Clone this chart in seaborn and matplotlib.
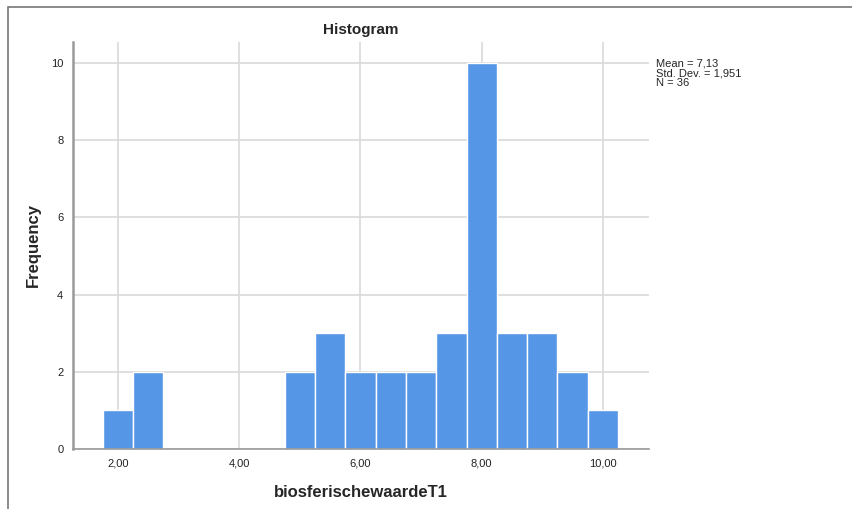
import seaborn as sns
import matplotlib.pyplot as plt
from matplotlib.patches import Rectangle

# bin centres and frequencies
bin_centers = [2.0, 2.5, 5.0, 5.5, 6.0, 6.5, 7.0, 7.5, 8.0, 8.5, 9.0, 9.5, 10.0]
frequencies = [1, 2, 2, 3, 2, 2, 2, 3, 10, 3, 3, 2, 1]
x_ticks = [2, 4, 6, 8, 10]
x_tick_labels = ["2,00", "4,00", "6,00", "8,00", "10,00"]
y_ticks = [0, 2, 4, 6, 8, 10]
stats_text = "Mean = 7,13\nStd. Dev. = 1,951\nN = 36"

sns.set_style("white")
plt.rcParams['font.family'] = ['Liberation Sans', 'DejaVu Sans']

fig = plt.figure(figsize=(8.52, 5.09), dpi=100)
ax = fig.add_axes([0.0857, 0.1179, 0.676, 0.7996])

sns.histplot(x=bin_centers, weights=frequencies, binwidth=0.5, binrange=(1.75, 10.25),
             color='#5596e6', alpha=1, edgecolor='white', linewidth=1, ax=ax, zorder=3)

ax.set_xlim(1.258, 10.76)
ax.set_ylim(0, 10.54)
ax.set_xticks(x_ticks)
ax.set_xticklabels(x_tick_labels)
ax.set_yticks(y_ticks)
ax.tick_params(length=0, labelsize=8, colors='#222222', pad=7)
ax.grid(True, color='#d9d9d9', linewidth=1.2, zorder=0)
ax.set_axisbelow(True)

for side in ['top', 'right']:
    ax.spines[side].set_visible(False)
ax.spines['left'].set_color('#9a9a9a')
ax.spines['left'].set_linewidth(1.8)
ax.spines['bottom'].set_color('#9a9a9a')
ax.spines['bottom'].set_linewidth(1.2)
ax.spines['bottom'].set_zorder(4)

ax.set_title("Histogram", fontsize=11, fontweight='bold', pad=6)
ax.set_xlabel("biosferischewaardeT1", fontsize=12, fontweight='bold', labelpad=12)
ax.set_ylabel("Frequency", fontsize=12, fontweight='bold', labelpad=7)

fig.text(656 / 852, 1 - 59 / 509, stats_text, fontsize=8, va='top', ha='left',
         linespacing=0.95)

# outer frame like the SPSS output window
fig.patches.append(Rectangle((8 / 852, -0.1), 1.2, 1.1 - 7 / 509, transform=fig.transFigure,
                             fill=False, edgecolor='#777777', linewidth=1.2))

fig.savefig("out.png", dpi=100)
